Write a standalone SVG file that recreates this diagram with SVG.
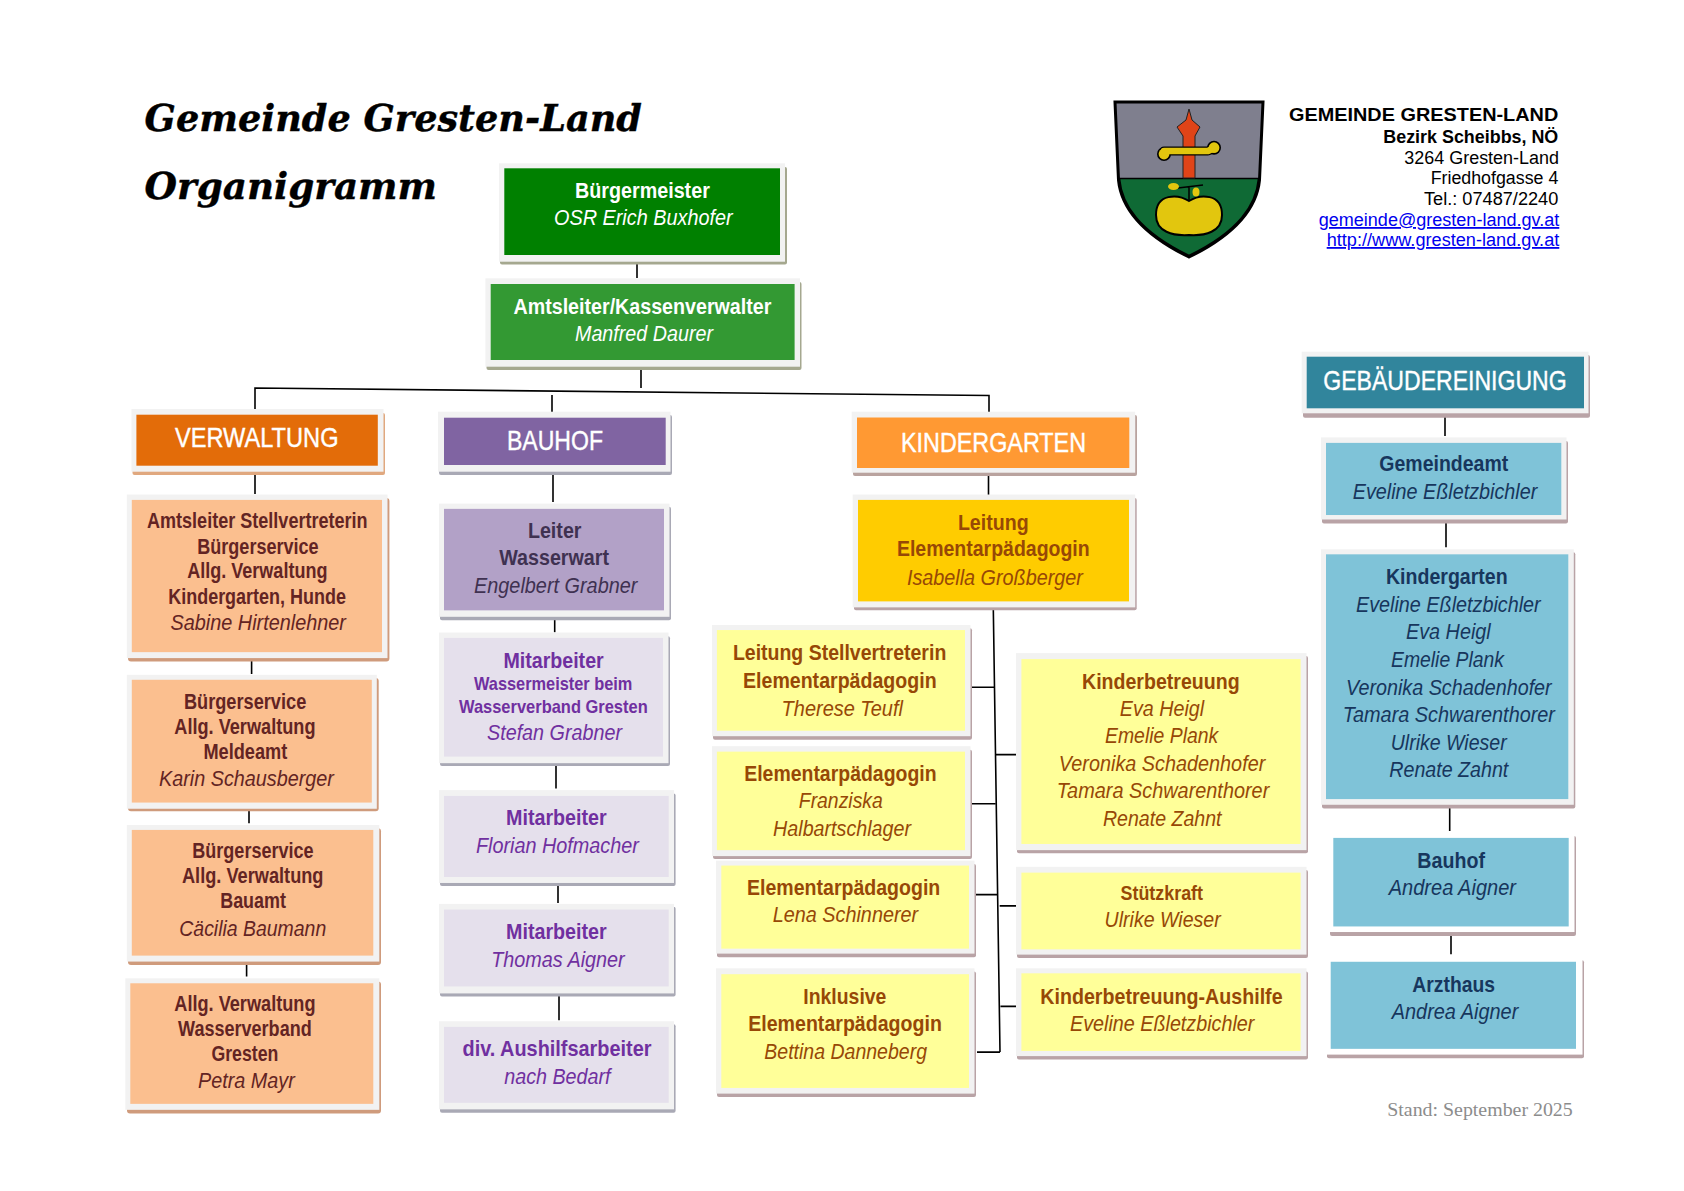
<svg xmlns="http://www.w3.org/2000/svg" width="1684" height="1191" viewBox="0 0 1684 1191">
<style>
text{font-family:"Liberation Sans",Arial,sans-serif;font-size:22px}
.b{font-weight:700}.i{font-style:italic}
.s{font-size:18.5px;font-weight:700}
.h{font-size:27.5px;fill:#fff;stroke:#fff;stroke-width:.4}
.t{font-family:"DejaVu Serif",serif;font-weight:700;font-style:italic;font-size:37px;fill:#000;stroke:#000;stroke-width:.4}
.w{fill:#fff}.o{fill:#632423}.p{fill:#3f3151}.v{fill:#7030a0}.y{fill:#974806}.n{fill:#17365d}
.f{fill:#f2f2f2}.fw{fill:#fff}
.a{font-size:18px;fill:#000}.ab{font-weight:700}.l{fill:#0000ee;text-decoration:underline}
.c{fill:none;stroke:#000;stroke-width:1.6}
.lo{transform:matrix(1,0,0,.995,0,2.4)}
.lr{transform:matrix(1,0,0,.995,0,2.1)}
</style>
<rect width="1684" height="1191" fill="#fff"/>
<text class="t" x="144.6" y="130.7" textLength="497.4" lengthAdjust="spacingAndGlyphs">Gemeinde Gresten-Land</text>
<text class="t" x="144.6" y="199" textLength="292.4" lengthAdjust="spacingAndGlyphs">Organigramm</text>
<g id="wappen">
<path d="M1115,102H1263L1259.5,180C1257,205 1240,232 1189,257C1138,232 1121,205 1118.5,180Z" fill="#7f7f8e" stroke="#000" stroke-width="3"/>
<path d="M1119.5,178.5H1258.5C1256,205 1239,231 1189,255.5C1139,231 1122,205 1119.5,178.5Z" fill="#0f6a35" stroke="#000" stroke-width="1.5"/>
<path d="M1189,109L1192,120L1200,127L1195,136V178H1183V136L1177,127L1186,120Z" fill="#e04418" stroke="#222" stroke-width="1"/>
<path d="M1164,154V151H1208L1214,148" fill="none" stroke="#000" stroke-width="9" stroke-linecap="round" stroke-linejoin="round"/>
<circle cx="1164" cy="154" r="7" fill="#000"/><circle cx="1214" cy="147.7" r="7" fill="#000"/>
<path d="M1164,154V151H1208L1214,148" fill="none" stroke="#e2c60e" stroke-width="6.5" stroke-linecap="round" stroke-linejoin="round"/>
<circle cx="1164" cy="154" r="5.4" fill="#e2c60e"/><circle cx="1214" cy="147.7" r="5.4" fill="#e2c60e"/>
<path d="M1189,201C1200,194 1222,193 1222,215C1222,232 1205,236 1189,235C1173,236 1156,232 1156,215C1156,193 1178,194 1189,201Z" fill="#e2c60e" stroke="#000" stroke-width="2"/>
<path d="M1189,201V187M1178,188L1203,185" fill="none" stroke="#000" stroke-width="1.5"/>
<ellipse cx="1173.5" cy="186.5" rx="5.5" ry="3.5" fill="#e2c60e"/>
<ellipse cx="1196" cy="192" rx="3.5" ry="4.5" fill="#e2c60e"/>
</g>
<g id="adresse">
<text class="a ab" x="1289" y="121" font-size="18.5" textLength="269.3" lengthAdjust="spacingAndGlyphs">GEMEINDE GRESTEN-LAND</text>
<text class="a ab" x="1383.3" y="142.7" textLength="175" lengthAdjust="spacingAndGlyphs">Bezirk Scheibbs, NÖ</text>
<text class="a" x="1404.3" y="164" textLength="154.7" lengthAdjust="spacingAndGlyphs">3264 Gresten-Land</text>
<text class="a" x="1430.7" y="184.3" textLength="127.6" lengthAdjust="spacingAndGlyphs">Friedhofgasse 4</text>
<text class="a" x="1424" y="205" textLength="134.3" lengthAdjust="spacingAndGlyphs">Tel.: 07487/2240</text>
<text class="a l" x="1318.7" y="226" textLength="240.6" lengthAdjust="spacingAndGlyphs" style="fill:#0000ee">gemeinde@gresten-land.gv.at</text>
<text class="a l" x="1326.7" y="246" textLength="232.6" lengthAdjust="spacingAndGlyphs" style="fill:#0000ee">http://www.gresten-land.gv.at</text>
</g>
<g id="connectors">
<path class="c" d="M637,262V278M641,367V388M255,412V388L989,395.5V415M552,395V412M255,473V494M553,472V502M988.5,476V495M1445,414V436"/>
<path class="c lo" d="M251.6,660V675M249,811V825M246.6,965V979M554.7,618V633M556,766V790M558,887V905M559,997V1023M993.3,609L1000,1055M972,688.3H994.5M972,805.4H995.3M976,896.7H998M977,1055H1000M996,756H1021M999.7,908H1018M1000.5,1009H1019"/>
<path class="c lr" d="M1446,522V548M1449.7,808V833M1451,936V957"/>
</g>
<g id="buergermeister"><rect x="500" y="167" width="287" height="97.5" rx="2" fill="#a5a88f"/><rect class="f" x="499" y="163.3" width="286" height="98.4"/><rect x="504.3" y="168.3" width="275.7" height="86.7" fill="#008000"/>
<text class="b w" x="575" y="197.6" textLength="134.8" lengthAdjust="spacingAndGlyphs">Bürgermeister</text>
<text class="i w" x="554" y="225.4" textLength="178.6" lengthAdjust="spacingAndGlyphs">OSR Erich Buxhofer</text></g>
<g id="amtsleiter"><rect x="486.5" y="282" width="315" height="88" rx="2" fill="#a5a88f"/><rect class="f" x="485.4" y="278.3" width="314.6" height="88.4"/><rect x="490.7" y="284" width="303.9" height="76" fill="#339933"/>
<text class="b w" x="513.5" y="314" textLength="257.9" lengthAdjust="spacingAndGlyphs">Amtsleiter/Kassenverwalter</text>
<text class="i w" x="575" y="340.7" textLength="138" lengthAdjust="spacingAndGlyphs">Manfred Daurer</text></g>
<g id="verwaltung"><rect x="132.5" y="413" width="252.5" height="62" rx="2" fill="#e0a87f"/><rect class="f" x="131.5" y="409" width="252" height="62.7"/><rect x="136.4" y="414.7" width="241.4" height="51" fill="#e36c09"/>
<text class="h" x="175" y="447.3" textLength="163.5" lengthAdjust="spacingAndGlyphs">VERWALTUNG</text></g>
<g id="bauhof"><rect x="439" y="415" width="233" height="60" rx="2" fill="#a9a9b5"/><rect class="f" x="438" y="411.7" width="232.5" height="60"/><rect x="444" y="417.7" width="221.7" height="47.3" fill="#8064a2"/>
<text class="h" x="507" y="450.2" textLength="96" lengthAdjust="spacingAndGlyphs">BAUHOF</text></g>
<g id="kindergarten"><rect x="853" y="415" width="284" height="61" rx="2" fill="#b9a39f"/><rect class="f" x="851.7" y="411.7" width="283.5" height="61"/><rect x="857" y="417.5" width="272.3" height="50.5" fill="#ff9933"/>
<text class="h" x="901" y="451.5" textLength="185" lengthAdjust="spacingAndGlyphs">KINDERGARTEN</text></g>
<g id="gebaeudereinigung"><rect x="1303" y="355" width="287" height="62.7" rx="2" fill="#b9a3a6"/><rect class="f" x="1301.7" y="351.7" width="286.8" height="61.6"/><rect x="1306.7" y="356.7" width="277.3" height="51.6" fill="#31859c"/>
<text class="h" x="1323.3" y="389.5" textLength="243.4" lengthAdjust="spacingAndGlyphs">GEBÄUDEREINIGUNG</text></g>
<g id="v1" class="lo"><rect x="128" y="498" width="261.4" height="164.5" rx="3" fill="#cf9b7c"/><rect class="f" x="126.8" y="494.6" width="260.7" height="164.4"/><rect x="131.8" y="500" width="250.2" height="153" fill="#fbbf8f"/>
<text class="b o" x="147" y="528.7" textLength="220.6" lengthAdjust="spacingAndGlyphs">Amtsleiter Stellvertreterin</text>
<text class="b o" x="197.3" y="554" textLength="121.3" lengthAdjust="spacingAndGlyphs">Bürgerservice</text>
<text class="b o" x="187.3" y="579" textLength="140.1" lengthAdjust="spacingAndGlyphs">Allg. Verwaltung</text>
<text class="b o" x="168.2" y="605" textLength="177.8" lengthAdjust="spacingAndGlyphs">Kindergarten, Hunde</text>
<text class="i o" x="170.5" y="631" textLength="175.5" lengthAdjust="spacingAndGlyphs">Sabine Hirtenlehner</text></g>
<g id="v2" class="lo"><rect x="128" y="679" width="250.7" height="134" rx="3" fill="#cf9b7c"/><rect class="f" x="126.8" y="675.8" width="250" height="134.6"/><rect x="131.8" y="680.8" width="240" height="123.4" fill="#fbbf8f"/>
<text class="b o" x="183.9" y="710" textLength="122.4" lengthAdjust="spacingAndGlyphs">Bürgerservice</text>
<text class="b o" x="174.3" y="735" textLength="141.2" lengthAdjust="spacingAndGlyphs">Allg. Verwaltung</text>
<text class="b o" x="203.4" y="760" textLength="83.8" lengthAdjust="spacingAndGlyphs">Meldeamt</text>
<text class="i o" x="159" y="787.5" textLength="174.9" lengthAdjust="spacingAndGlyphs">Karin Schausberger</text></g>
<g id="v3" class="lo"><rect x="128" y="830" width="253" height="137.5" rx="3" fill="#cf9b7c"/><rect class="f" x="126.8" y="826.7" width="252.5" height="137.3"/><rect x="131.8" y="831.7" width="241.5" height="126.3" fill="#fbbf8f"/>
<text class="b o" x="192.3" y="860.4" textLength="121.3" lengthAdjust="spacingAndGlyphs">Bürgerservice</text>
<text class="b o" x="182" y="885.4" textLength="141.5" lengthAdjust="spacingAndGlyphs">Allg. Verwaltung</text>
<text class="b o" x="220.2" y="910.4" textLength="65.8" lengthAdjust="spacingAndGlyphs">Bauamt</text>
<text class="i o" x="179.3" y="938.3" textLength="146.9" lengthAdjust="spacingAndGlyphs">Cäcilia Baumann</text></g>
<g id="v4" class="lo"><rect x="127" y="984" width="254" height="132.7" rx="3" fill="#cf9b7c"/><rect class="f" x="125.3" y="980.8" width="254" height="132.2"/><rect x="130.3" y="985.8" width="243" height="121.2" fill="#fbbf8f"/>
<text class="b o" x="174.3" y="1014" textLength="141.2" lengthAdjust="spacingAndGlyphs">Allg. Verwaltung</text>
<text class="b o" x="178.1" y="1039" textLength="133.6" lengthAdjust="spacingAndGlyphs">Wasserverband</text>
<text class="b o" x="211.4" y="1064" textLength="67" lengthAdjust="spacingAndGlyphs">Gresten</text>
<text class="i o" x="198" y="1090.8" textLength="96.8" lengthAdjust="spacingAndGlyphs">Petra Mayr</text></g>
<g id="b1" class="lo"><rect x="440" y="507" width="231" height="114" rx="2" fill="#a9a9b5"/><rect class="f" x="439" y="503.7" width="230.5" height="113.8"/><rect x="444" y="509" width="220" height="102" fill="#b2a1c7"/>
<text class="b p" x="527.9" y="538.2" textLength="53.6" lengthAdjust="spacingAndGlyphs">Leiter</text>
<text class="b p" x="499.2" y="565.7" textLength="109.8" lengthAdjust="spacingAndGlyphs">Wasserwart</text>
<text class="i p" x="474" y="593.6" textLength="163.4" lengthAdjust="spacingAndGlyphs">Engelbert Grabner</text></g>
<g id="b2" class="lo"><rect x="440" y="637" width="230" height="130.5" rx="2" fill="#a9a9b5"/><rect class="f" x="439" y="633.3" width="229.5" height="131.3"/><rect x="444" y="638.7" width="219" height="119.3" fill="#e5e0ec"/>
<text class="b v" x="503.4" y="668.6" textLength="100.3" lengthAdjust="spacingAndGlyphs">Mitarbeiter</text>
<text class="s v" x="474" y="691.5" textLength="158.4" lengthAdjust="spacingAndGlyphs">Wassermeister beim</text>
<text class="s v" x="459" y="714.4" textLength="188.7" lengthAdjust="spacingAndGlyphs">Wasserverband Gresten</text>
<text class="i v" x="487" y="741.5" textLength="135" lengthAdjust="spacingAndGlyphs">Stefan Grabner</text></g>
<g id="b3" class="lo"><rect x="440" y="795" width="235.6" height="93" rx="2" fill="#a9a9b5"/><rect class="f" x="439" y="791.7" width="235" height="93.3"/><rect x="444" y="797.5" width="224.7" height="81.5" fill="#e5e0ec"/>
<text class="b v" x="506" y="827" textLength="100.7" lengthAdjust="spacingAndGlyphs">Mitarbeiter</text>
<text class="i v" x="475.9" y="855" textLength="163" lengthAdjust="spacingAndGlyphs">Florian Hofmacher</text></g>
<g id="b4" class="lo"><rect x="440" y="909" width="235.6" height="90" rx="2" fill="#a9a9b5"/><rect class="f" x="439" y="906" width="235" height="90"/><rect x="444" y="911.7" width="224.7" height="77.3" fill="#e5e0ec"/>
<text class="b v" x="506" y="941" textLength="100.7" lengthAdjust="spacingAndGlyphs">Mitarbeiter</text>
<text class="i v" x="491.2" y="969.6" textLength="133.5" lengthAdjust="spacingAndGlyphs">Thomas Aigner</text></g>
<g id="b5" class="lo"><rect x="440" y="1027" width="235.6" height="89" rx="2" fill="#a9a9b5"/><rect class="f" x="439" y="1024" width="235" height="88.5"/><rect x="444" y="1029.6" width="224.7" height="76.4" fill="#e5e0ec"/>
<text class="b v" x="462.5" y="1059" textLength="189" lengthAdjust="spacingAndGlyphs">div. Aushilfsarbeiter</text>
<text class="i v" x="504.2" y="1087.5" textLength="106.4" lengthAdjust="spacingAndGlyphs">nach Bedarf</text></g>
<g id="k0" class="lo"><rect x="854" y="498" width="282.7" height="113" rx="2" fill="#b9a3a6"/><rect class="f" x="852.7" y="494.6" width="282.5" height="113.4"/><rect x="858" y="500" width="271" height="102" fill="#ffcc00"/>
<text class="b y" x="957.9" y="530" textLength="70.7" lengthAdjust="spacingAndGlyphs">Leitung</text>
<text class="b y" x="896.9" y="556.5" textLength="192.8" lengthAdjust="spacingAndGlyphs">Elementarpädagogin</text>
<text class="i y" x="906.9" y="585.4" textLength="176" lengthAdjust="spacingAndGlyphs">Isabella Großberger</text></g>
<g id="k1" class="lo"><rect x="713" y="629" width="259" height="112" rx="2" fill="#b9a3a6"/><rect class="f" x="712" y="625.8" width="258.5" height="111.7"/><rect x="716.9" y="630.8" width="248.1" height="101.2" fill="#ffff99"/>
<text class="b y" x="732.9" y="661.2" textLength="213.4" lengthAdjust="spacingAndGlyphs">Leitung Stellvertreterin</text>
<text class="b y" x="743" y="689" textLength="193.6" lengthAdjust="spacingAndGlyphs">Elementarpädagogin</text>
<text class="i y" x="781.6" y="716.7" textLength="121.3" lengthAdjust="spacingAndGlyphs">Therese Teufl</text></g>
<g id="k2" class="lo"><rect x="713" y="751" width="259" height="110" rx="2" fill="#b9a3a6"/><rect class="f" x="712" y="747.5" width="258.5" height="110.5"/><rect x="716.9" y="753" width="248.1" height="99" fill="#ffff99"/>
<text class="b y" x="744.2" y="783" textLength="192.4" lengthAdjust="spacingAndGlyphs">Elementarpädagogin</text>
<text class="i y" x="798.8" y="810" textLength="84" lengthAdjust="spacingAndGlyphs">Franziska</text>
<text class="i y" x="773.1" y="837.5" textLength="137.9" lengthAdjust="spacingAndGlyphs">Halbartschlager</text></g>
<g id="k3" class="lo"><rect x="717" y="866" width="259" height="93.6" rx="2" fill="#b9a3a6"/><rect class="f" x="716" y="862.5" width="258.5" height="93.5"/><rect x="721.3" y="867.5" width="247.7" height="83.5" fill="#ffff99"/>
<text class="b y" x="747" y="897.5" textLength="193.3" lengthAdjust="spacingAndGlyphs">Elementarpädagogin</text>
<text class="i y" x="772.7" y="924.6" textLength="145.5" lengthAdjust="spacingAndGlyphs">Lena Schinnerer</text></g>
<g id="k4" class="lo"><rect x="717" y="974" width="259" height="126" rx="2" fill="#b9a3a6"/><rect class="f" x="716" y="970.8" width="258.5" height="125.9"/><rect x="721.3" y="976.7" width="247.7" height="114.3" fill="#ffff99"/>
<text class="b y" x="803.3" y="1007" textLength="83.1" lengthAdjust="spacingAndGlyphs">Inklusive</text>
<text class="b y" x="748.2" y="1034" textLength="193.7" lengthAdjust="spacingAndGlyphs">Elementarpädagogin</text>
<text class="i y" x="764.3" y="1062" textLength="162.7" lengthAdjust="spacingAndGlyphs">Bettina Danneberg</text></g>
<g id="k5" class="lo"><rect x="1017" y="657" width="291" height="198" rx="2" fill="#b9a3a6"/><rect class="f" x="1016" y="654" width="290.5" height="198"/><rect x="1021.4" y="660" width="279.2" height="185.8" fill="#ffff99"/>
<text class="b y" x="1082" y="689.6" textLength="157.6" lengthAdjust="spacingAndGlyphs">Kinderbetreuung</text>
<text class="i y" x="1119.8" y="717.5" textLength="84.4" lengthAdjust="spacingAndGlyphs">Eva Heigl</text>
<text class="i y" x="1105" y="744.6" textLength="113.3" lengthAdjust="spacingAndGlyphs">Emelie Plank</text>
<text class="i y" x="1058.8" y="772.5" textLength="206.5" lengthAdjust="spacingAndGlyphs">Veronika Schadenhofer</text>
<text class="i y" x="1056.8" y="800" textLength="212.5" lengthAdjust="spacingAndGlyphs">Tamara Schwarenthorer</text>
<text class="i y" x="1103" y="828" textLength="118.5" lengthAdjust="spacingAndGlyphs">Renate Zahnt</text></g>
<g id="k6" class="lo"><rect x="1017" y="872" width="291" height="88.4" rx="2" fill="#b9a3a6"/><rect class="f" x="1016" y="868.8" width="290.5" height="88.2"/><rect x="1021.4" y="874.6" width="279.2" height="77.1" fill="#ffff99"/>
<text class="b y" x="1120.6" y="902" textLength="82.4" lengthAdjust="spacingAndGlyphs" style="font-size:20px">Stützkraft</text>
<text class="i y" x="1104.6" y="929" textLength="116.1" lengthAdjust="spacingAndGlyphs">Ulrike Wieser</text></g>
<g id="k7" class="lo"><rect x="1017" y="974" width="291" height="88.5" rx="2" fill="#b9a3a6"/><rect class="f" x="1016" y="970.8" width="290.5" height="88.2"/><rect x="1021.4" y="975.8" width="279.2" height="78" fill="#ffff99"/>
<text class="b y" x="1040.3" y="1007" textLength="242.3" lengthAdjust="spacingAndGlyphs">Kinderbetreuung-Aushilfe</text>
<text class="i y" x="1070" y="1034" textLength="184.4" lengthAdjust="spacingAndGlyphs">Eveline Eßletzbichler</text></g>
<g id="g1" class="lr"><rect x="1322" y="441" width="246" height="83" rx="2" fill="#b9a3a6"/><rect class="f" x="1321" y="437.5" width="245.5" height="82.5"/><rect x="1326" y="443" width="235.3" height="72.5" fill="#7fc3d8"/>
<text class="b n" x="1379.3" y="471.5" textLength="129" lengthAdjust="spacingAndGlyphs">Gemeindeamt</text>
<text class="i n" x="1352.7" y="499.3" textLength="184.6" lengthAdjust="spacingAndGlyphs">Eveline Eßletzbichler</text></g>
<g id="g2" class="lr"><rect x="1322" y="553" width="253.3" height="257.4" rx="2" fill="#b9a3a6"/><rect class="f" x="1321" y="550" width="252.8" height="256.7"/><rect x="1326" y="555" width="242.3" height="246" fill="#7fc3d8"/>
<text class="b n" x="1386" y="585.2" textLength="121.7" lengthAdjust="spacingAndGlyphs">Kindergarten</text>
<text class="i n" x="1356" y="613" textLength="184.7" lengthAdjust="spacingAndGlyphs">Eveline Eßletzbichler</text>
<text class="i n" x="1406" y="640.6" textLength="84.7" lengthAdjust="spacingAndGlyphs">Eva Heigl</text>
<text class="i n" x="1391" y="668.3" textLength="113" lengthAdjust="spacingAndGlyphs">Emelie Plank</text>
<text class="i n" x="1346" y="696" textLength="205.7" lengthAdjust="spacingAndGlyphs">Veronika Schadenhofer</text>
<text class="i n" x="1342.7" y="723.6" textLength="212.3" lengthAdjust="spacingAndGlyphs">Tamara Schwarenthorer</text>
<text class="i n" x="1390.7" y="751.3" textLength="116" lengthAdjust="spacingAndGlyphs">Ulrike Wieser</text>
<text class="i n" x="1389.3" y="779" textLength="119" lengthAdjust="spacingAndGlyphs">Renate Zahnt</text></g>
<g id="g3" class="lr"><rect x="1330" y="838" width="246" height="100.7" rx="2" fill="#b9a3a6"/><rect class="fw" x="1329" y="836" width="245.5" height="98.6"/><rect x="1333.3" y="840" width="235.4" height="89" fill="#7fc3d8"/>
<text class="b n" x="1417.3" y="870" textLength="67.7" lengthAdjust="spacingAndGlyphs">Bauhof</text>
<text class="i n" x="1388.7" y="897.6" textLength="127.3" lengthAdjust="spacingAndGlyphs">Andrea Aigner</text></g>
<g id="g4" class="lr"><rect x="1327" y="963" width="257" height="98.5" rx="2" fill="#b9a3a6"/><rect class="fw" x="1326" y="961" width="256.5" height="96.8"/><rect x="1330.7" y="964.5" width="245.3" height="87.5" fill="#7fc3d8"/>
<text class="b n" x="1412.3" y="994.5" textLength="82.7" lengthAdjust="spacingAndGlyphs">Arzthaus</text>
<text class="i n" x="1391.7" y="1022" textLength="126.6" lengthAdjust="spacingAndGlyphs">Andrea Aigner</text></g>
<text x="1387.3" y="1116" textLength="185.4" lengthAdjust="spacingAndGlyphs" style="font-family:'Liberation Serif',serif;font-size:19px;fill:#8c8c8c">Stand: September 2025</text>
</svg>
